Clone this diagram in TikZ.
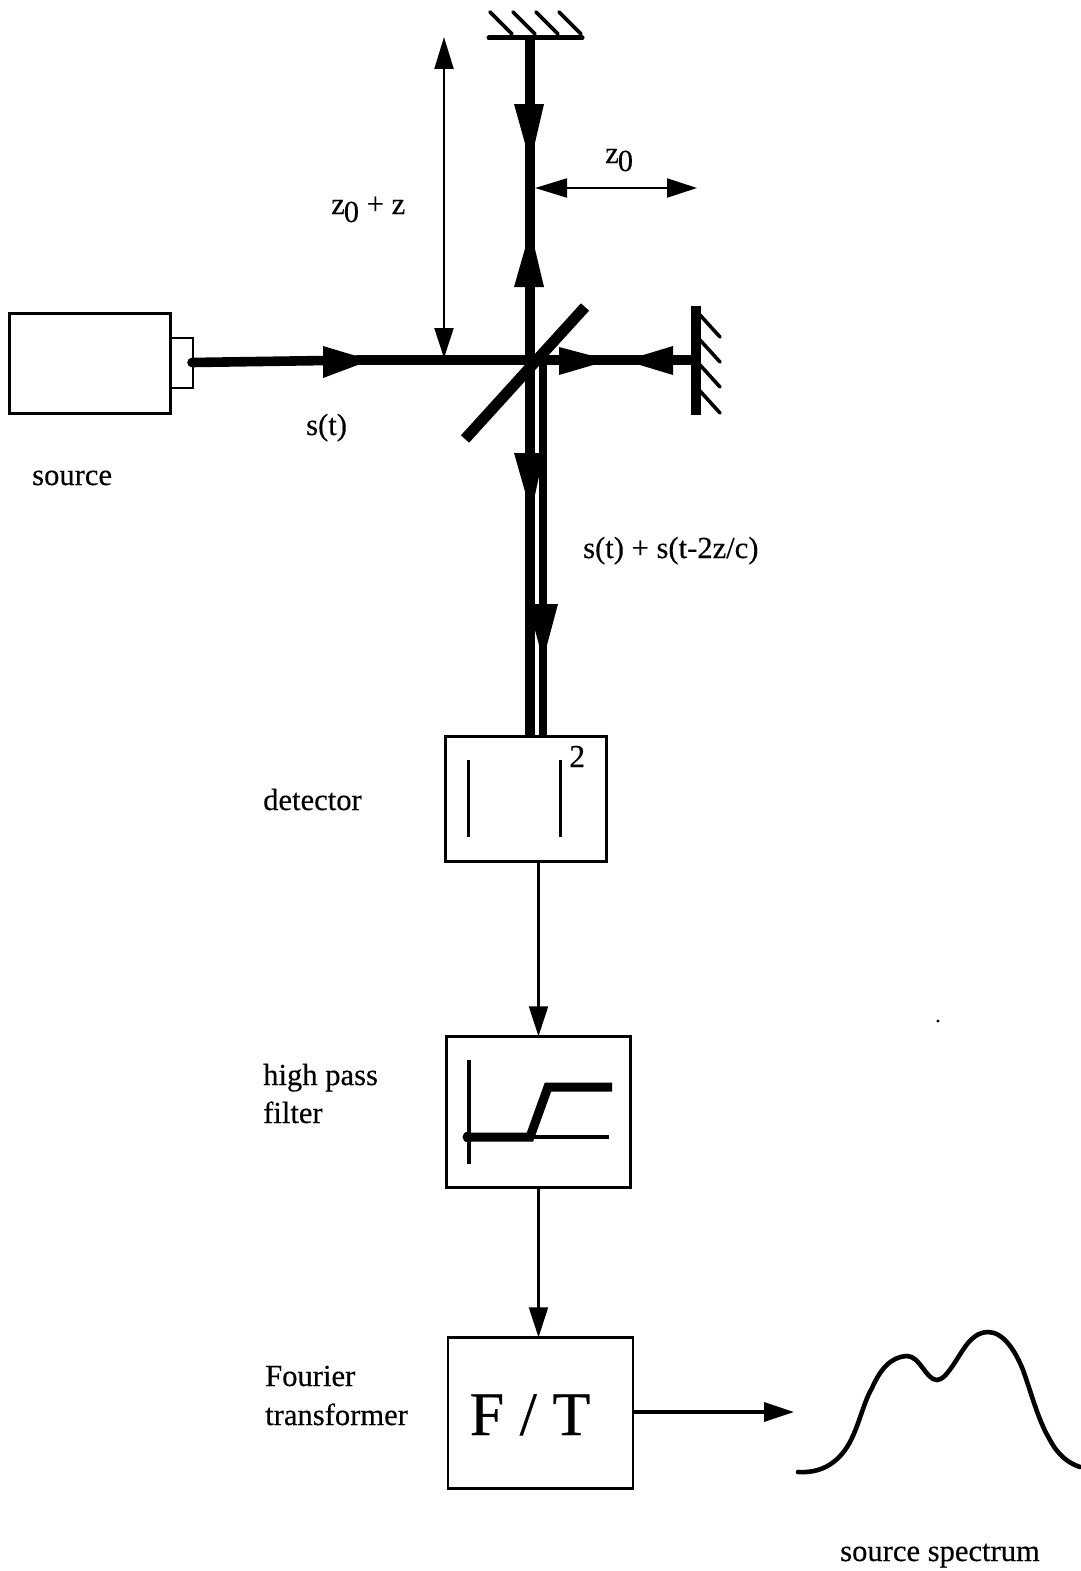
\documentclass[tikz,border=0pt]{standalone}
\usepackage{fontspec}
\setmainfont[FakeBold=0.35]{Liberation Serif}
\usetikzlibrary{arrows.meta}
\tikzset{
  beam/.style={line width=9.6pt,black},
  thin box/.style={draw,line width=2.5pt,inner sep=0pt,fill=white},
  sig/.style={line width=2.2pt,-{Triangle[length=30pt,width=19pt]},shorten >=-1pt},
  dim/.style={line width=2.2pt,{Triangle[length=32pt,width=19pt]}-{Triangle[length=30pt,width=19pt]}},
  hatch/.style={line width=3.6pt,line cap=round},
  lbl/.style={inner sep=0pt,font=\fontsize{30.6}{34}\selectfont,align=left},
}
\begin{document}
\begin{tikzpicture}[x=1pt,y=-1pt]
\useasboundingbox (0,0) rectangle (1080,1571);
\coordinate (bs) at (530,360);
\coordinate (bs2) at (543,365);
\coordinate (topm) at (530,38);
\coordinate (rightm) at (696,360);
% source
\node[thin box,minimum width=161pt,minimum height=100pt] (src) at (90,363.5) {};
\node[thin box,minimum width=22pt,minimum height=50pt] (nozzle) at (182,363) {};
% beams
\coordinate (beamstart) at (192,362.5);
\coordinate (beamkink) at (360,360);
\draw[beam] (beamstart) -- (beamkink) -- (bs);
\fill (beamstart) circle (4.8pt);
\draw[beam] (topm) -- (bs);
\draw[beam] (bs) -- (rightm);
% detector box first so beams end on it
\node[thin box,minimum width=161pt,minimum height=125pt] (det) at (526,799) {};
\draw[beam] (bs) -- (bs |- det.north);
\draw[line width=8.5pt] (bs2) -- (bs2 |- det.north);
% beam splitter
\coordinate (bsa) at (465,439);
\coordinate (bsb) at (585,307);
\draw[line width=11pt] (bsa) -- (bsb);
% mirrors
\draw[line width=5pt,line cap=round] (489,38) -- (582,38);
\foreach \x in {490,513,536,559}
  \draw[hatch] (\x,12) -- (\x+22,34);
\draw[line width=9.5pt] (696,306) -- (696,415);
\foreach \y in {315,340,365,391}
  \draw[hatch] (700,\y) -- (720,\y+22);
% big arrowheads
\fill (514,104) -- (544,104) -- (534,147) -- (526,147) -- cycle;
\fill (514,287) -- (544,287) -- (534,245) -- (526,245) -- cycle;
\fill (323,346) -- (363,358) -- (363,363) -- (323,378) -- cycle;
\fill (559,347) -- (593,356) -- (593,365) -- (559,375) -- cycle;
\fill (673,346) -- (640,356) -- (640,365) -- (673,375) -- cycle;
\fill (514,453) -- (544,453) -- (535,495) -- (526,495) -- cycle;
\fill (528,604) -- (558,604) -- (547,645) -- (539,645) -- cycle;
% dimension arrows
\coordinate (dimtop) at (444,37);
\coordinate (dimbot) at (444,358);
\draw[dim] (dimtop) -- (dimbot);
\coordinate (za) at (535,188);
\coordinate (zb) at (697,188);
\draw[dim] (za) -- (zb);
% detector contents
\draw[line width=3pt] (468,760) -- (468,837);
\draw[line width=3pt] (560,760) -- (560,837);
\node[inner sep=0pt,anchor=base west,font=\fontsize{32}{34}\selectfont] (sq) at (569,767) {2};
% filter
\node[thin box,minimum width=184pt,minimum height=151pt] (hpf) at (538.5,1112) {};
\draw[line width=3.4pt] (469,1060) -- (469,1164);
\draw[line width=3.6pt] (469,1137) -- (609,1137);
\draw[line width=9pt,line join=miter] (465,1137) -- (530,1137) -- (548,1087) -- (612,1087);
\fill (468,1137) circle (5.5pt);
% FT
\node[thin box,minimum width=185pt,minimum height=151pt] (ft) at (540.5,1413) {};
\node[inner sep=0pt,anchor=base,font=\fontsize{62}{64}\selectfont] (ftl) at (530,1435) {F / T};
% spectrum anchor
\coordinate (specin) at (793,1412);
% signal connectors
\draw[sig] (det.south -| hpf.north) -- (hpf.north);
\draw[sig] (hpf.south) -- (hpf.south |- ft.north);
\draw[sig,line width=3.4pt] (ft.east |- specin) -- (specin);
% spectrum
\draw[line width=4.6pt,line cap=round] (798,1472)
  .. controls (815,1473) and (832,1468) .. (845,1450)
  .. controls (858,1432) and (862,1405) .. (872,1388)
  .. controls (880,1370) and (890,1357) .. (907,1356)
  .. controls (920,1356) and (926,1380) .. (937,1380)
  .. controls (947,1380) and (958,1355) .. (968,1343)
  .. controls (975,1335) and (981,1332) .. (988,1332)
  .. controls (1003,1332) and (1015,1350) .. (1023,1370)
  .. controls (1032,1395) and (1038,1420) .. (1050,1440)
  .. controls (1058,1455) and (1068,1463) .. (1080,1467);
% labels
\node[lbl,anchor=base west] (l1) at (32,485) {source};
\node[lbl,anchor=base west] (l2) at (306,435) {s(t)};
\node[lbl,anchor=base west] (l3) at (331,214) {z\kern-1pt\raisebox{-8pt}{0} + z};
\node[lbl,anchor=base west] (l4) at (605,163) {z\kern-1pt\raisebox{-8pt}{0}};
\node[lbl,anchor=base west] (l5) at (583,558) {s(t) + s(t-2z/c)};
\node[lbl,anchor=base west] (l6) at (263,810) {detector};
\node[lbl,anchor=base west] (l7) at (263,1085) {high pass};
\node[lbl,anchor=base west] (l8) at (263,1123) {filter};
\node[lbl,anchor=base west] (l9) at (265,1386) {Fourier};
\node[lbl,anchor=base west] (l10) at (265,1425) {transformer};
\node[lbl,anchor=base west] (l11) at (840,1561) {source spectrum};
\fill (938,1021) circle (1.6pt);
\end{tikzpicture}
\end{document}
